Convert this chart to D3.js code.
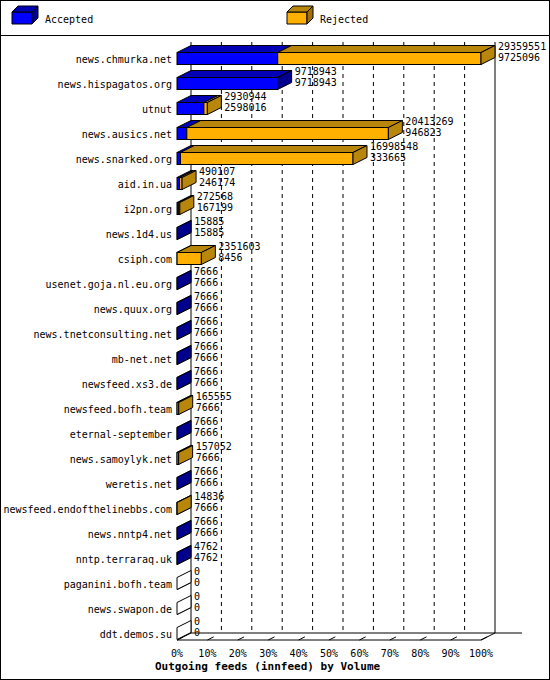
<!DOCTYPE html><html><head><meta charset="utf-8">
<script src="https://cdn.jsdelivr.net/npm/d3@7"></script>
<style>body{margin:0;background:#fff}text{font-family:"DejaVu Sans Mono","Liberation Mono",monospace;font-size:10px}</style>
</head><body><svg id="c" width="550" height="680"></svg><script>
const categories=["news.chmurka.net","news.hispagatos.org","utnut","news.ausics.net","news.snarked.org","aid.in.ua","i2pn.org","news.1d4.us","csiph.com","usenet.goja.nl.eu.org","news.quux.org","news.tnetconsulting.net","mb-net.net","newsfeed.xs3.de","newsfeed.bofh.team","eternal-september","news.samoylyk.net","weretis.net","newsfeed.endofthelinebbs.com","news.nntp4.net","nntp.terraraq.uk","paganini.bofh.team","news.swapon.de","ddt.demos.su"];
const offered=[29359551,9718943,2930944,20413269,16998548,490107,272568,15885,2351603,7666,7666,7666,7666,7666,165555,7666,157052,7666,14836,7666,4762,0,0,0];
const accepted=[9725096,9718943,2598016,946823,333665,246174,167199,15885,8456,7666,7666,7666,7666,7666,7666,7666,7666,7666,7666,7666,4762,0,0,0];
const tickLabels=["0%","10%","20%","30%","40%","50%","60%","70%","80%","90%","100%"];
const svg=d3.select("#c");
const W=550,H=680,dx=14,dy=-7;
svg.append("rect").attr("x",0.5).attr("y",0.5).attr("width",W-1).attr("height",H-1).attr("fill","#fff").attr("stroke","#000");
svg.append("line").attr("x1",0).attr("x2",W).attr("y1",35.5).attr("y2",35.5).attr("stroke","#000");
const BLUE="#0000ff",BLUE_T="#0000b4",BLUE_S="#00008c",OR="#ffb000",OR_T="#b8860b",OR_S="#a07000";
function cube(x,y,c1,c2,c3){
 svg.append("path").attr("d",`M${x},${y+12}h20v-12h-20z`).attr("fill",c1).attr("stroke","#000");
 svg.append("path").attr("d",`M${x},${y}l6,-6h20l-6,6z`).attr("fill",c2).attr("stroke","#000");
 svg.append("path").attr("d",`M${x+20},${y}l6,-6v12l-6,6z`).attr("fill",c3).attr("stroke","#000");
}
cube(12,12,BLUE,BLUE_T,BLUE_S);svg.append("text").attr("x",45).attr("y",23).text("Accepted");
cube(287,12,OR,OR_T,OR_S);svg.append("text").attr("x",320).attr("y",23).text("Rejected");
const x=d3.scaleLinear().domain([0,d3.max(offered)]).range([177,481]);
const y=d3.scaleBand().domain(categories).range([46,646]).paddingInner(0.52).paddingOuter(0.26);
const topY=42,floorY=640;
const g=svg.append("g");
g.append("line").attr("x1",x(0)+dx).attr("x2",x(0)+dx).attr("y1",topY).attr("y2",floorY+dy).attr("stroke","#000");
g.append("line").attr("x1",x.range()[1]+dx).attr("x2",x.range()[1]+dx).attr("y1",topY).attr("y2",floorY+dy).attr("stroke","#000");
tickLabels.forEach((t,i)=>{
 const xv=x(d3.max(offered)*i/10);
 if(i>0&&i<10)g.append("line").attr("x1",xv+dx).attr("x2",xv+dx).attr("y1",topY).attr("y2",floorY+dy).attr("stroke","#000").attr("stroke-dasharray","4,4");
 g.append("line").attr("x1",xv).attr("x2",xv+dx*0.45).attr("y1",floorY).attr("y2",floorY+dy*0.45).attr("stroke","#000");
 g.append("text").attr("x",xv).attr("y",floorY+17).attr("text-anchor","middle").text(t);
});
g.append("line").attr("x1",x(0)+dx).attr("x2",522).attr("y1",floorY+dy).attr("y2",floorY+dy).attr("stroke","#000");
g.append("line").attr("x1",x(0)).attr("x2",x.range()[1]).attr("y1",floorY).attr("y2",floorY).attr("stroke","#000");
g.append("line").attr("x1",x.range()[1]).attr("x2",x.range()[1]+dx).attr("y1",floorY).attr("y2",floorY+dy).attr("stroke","#000");
g.append("line").attr("x1",x(0)).attr("x2",x(0)+dx).attr("y1",floorY).attr("y2",floorY+dy).attr("stroke","#000");
svg.append("text").attr("x",155).attr("y",670).attr("font-weight","bold").style("font-size","11px").text("Outgoing feeds (innfeed) by Volume");
categories.forEach((c,i)=>{
 const y0=y(c),h=y.bandwidth(),x0=x(0),xa=x(accepted[i]),xo=x(offered[i]);
 svg.append("line").attr("x1",x0).attr("x2",x0+dx).attr("y1",y0+h).attr("y2",y0+h+dy).attr("stroke","#000");
 svg.append("text").attr("x",172).attr("y",y0+h/2+4).attr("text-anchor","end").text(c);
 if(offered[i]>0){
  const rej=offered[i]>accepted[i];
  const segs=[[x0,xa,BLUE,BLUE_T]];if(rej)segs.push([xa,xo,OR,OR_T]);
  segs.forEach(s=>{
   svg.append("path").attr("d",`M${s[0]},${y0}l${dx},${dy}H${s[1]+dx}l${-dx},${-dy}z`).attr("fill",s[3]).attr("stroke","#000");
   svg.append("rect").attr("x",s[0]).attr("y",y0).attr("width",s[1]-s[0]).attr("height",h).attr("fill",s[2]).attr("stroke","#000");
  });
  svg.append("path").attr("d",`M${xo},${y0}l${dx},${dy}v${h}l${-dx},${-dy}z`).attr("fill",rej?OR_T:BLUE_S).attr("stroke","#000");
 } else {
  svg.append("path").attr("d",`M${x0},${y0}l${dx},${dy}v${h}l${-dx},${-dy}z`).attr("fill","#fff").attr("stroke","#000");
 }
 const tx=xo+dx+3;
 svg.append("text").attr("x",tx).attr("y",y0-3).text(offered[i]);
 svg.append("text").attr("x",tx).attr("y",y0+8).text(accepted[i]);
});
</script></body></html>
